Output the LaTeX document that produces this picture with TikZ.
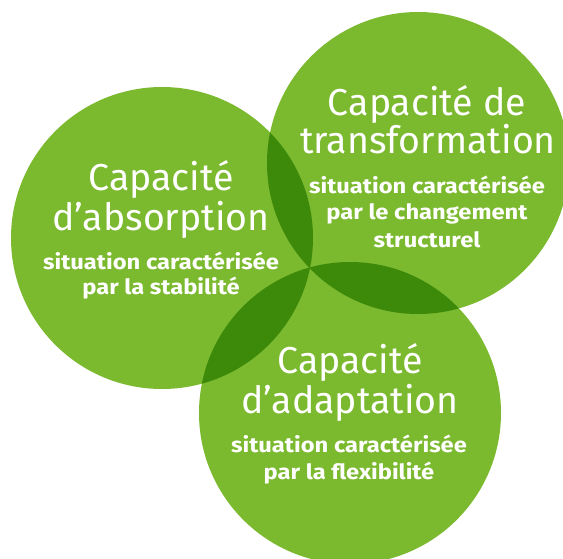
\documentclass[tikz,border=0pt]{standalone}
\usepackage{fontspec}
\setmainfont{Fira Sans}
\definecolor{leaf}{HTML}{7BB92F}
\definecolor{leafdark}{HTML}{3D8A0B}
\newcommand{\wide}[1]{\scalebox{1.13}[1]{#1}}
\begin{document}
\begin{tikzpicture}[x=1pt,y=-1pt,
  title/.style={text=white,font=\fontsize{37.5}{37.5}\selectfont,anchor=base,inner sep=0pt},
  sub/.style={text=white,font=\fontsize{21}{21}\selectfont\bfseries,anchor=base,inner sep=0pt}]
\useasboundingbox (0,0) rectangle (563,558);
\def\rad{151}
% circle centres
\coordinate (cabs) at (162,238);
\coordinate (ctra) at (418,163);
\coordinate (cada) at (350,413);
% discs
\fill[leaf] (cabs) circle (\rad);
\fill[leaf] (ctra) circle (\rad);
\fill[leaf] (cada) circle (\rad);
% pairwise overlaps
\begin{scope}
  \clip (cabs) circle (\rad);
  \fill[leafdark] (ctra) circle (\rad);
  \fill[leafdark] (cada) circle (\rad);
\end{scope}
\begin{scope}
  \clip (ctra) circle (\rad);
  \fill[leafdark] (cada) circle (\rad);
\end{scope}
% absorption
\node[title] (abs1) at (161,190) {Capacité};
\node[title] (abs2) at (161,230) {d’absorption};
\node[sub] (abs3) at (161,269) {\wide{situation caractérisée}};
\node[sub] (abs4) at (161,294) {\wide{par la stabilité}};
% transformation
\node[title] (tra1) at (427,115) {Capacité de};
\node[title] (tra2) at (428,153) {transformation};
\node[sub] (tra3) at (427,193) {\wide{situation caractérisée}};
\node[sub] (tra4) at (427,219) {\wide{par le changement}};
\node[sub] (tra5) at (427,247) {\wide{structurel}};
% adaptation
\node[title] (ada1) at (350,373) {Capacité};
\node[title] (ada2) at (350,413) {d’adaptation};
\node[sub] (ada3) at (349,452) {\wide{situation caractérisée}};
\node[sub] (ada4) at (349,479) {\wide{par la flexibilité}};
\end{tikzpicture}
\end{document}
